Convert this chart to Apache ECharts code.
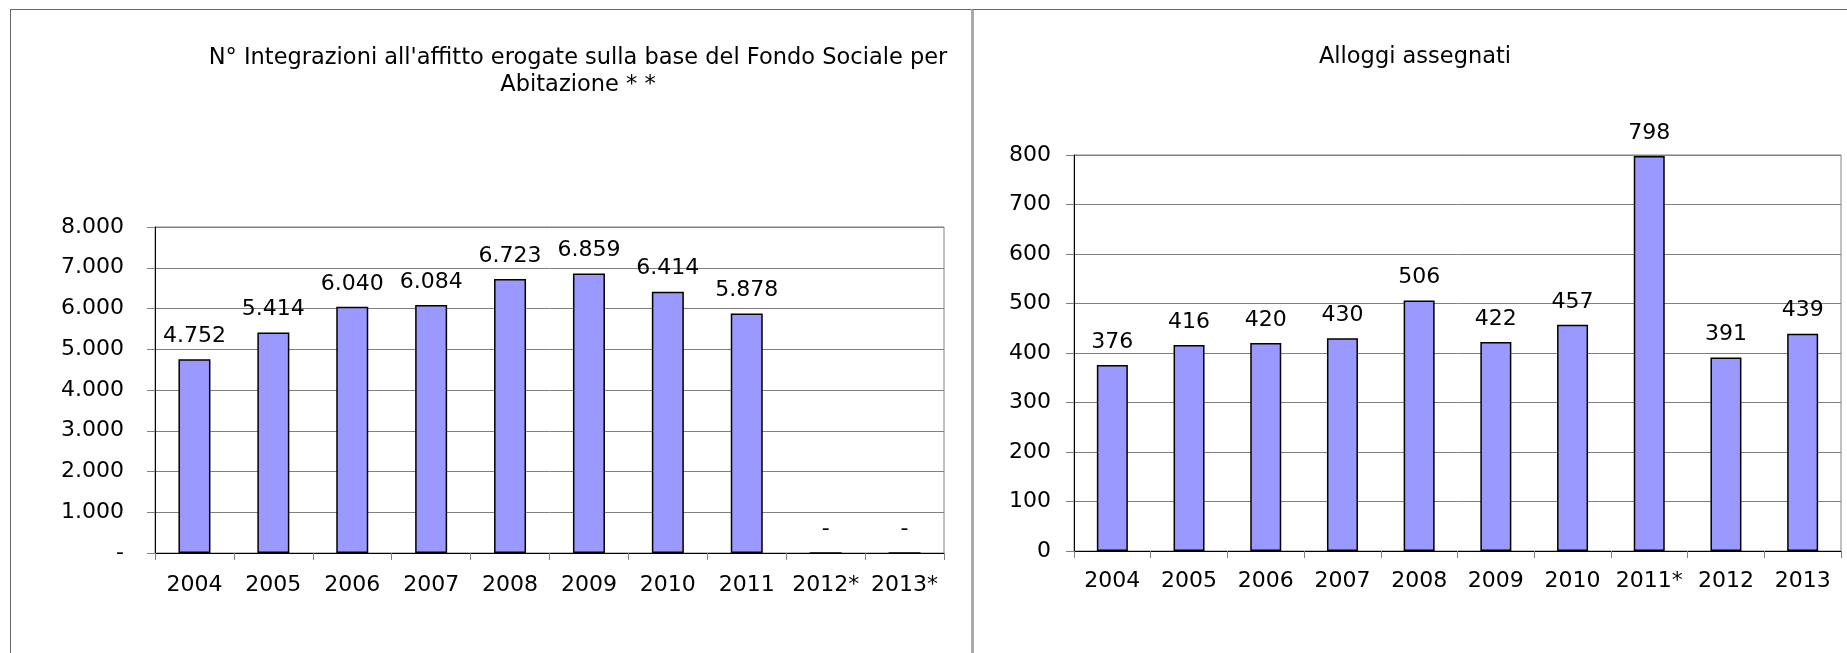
<!DOCTYPE html>
<html>
<head>
<meta charset="utf-8">
<script src="https://cdn.jsdelivr.net/npm/echarts@6/dist/echarts.min.js"></script>
<style>
    html, body { margin: 0; padding: 0; background: #fff; overflow: hidden; }
    #main { position: absolute; left: 0; top: 0; width: 1847px; height: 653px; }
    .frame { position: absolute; pointer-events: none; border-top: 1px solid #666; }
    #frameA { left: 10px; top: 9px; width: 962px; height: 700px; border-left: 1px solid #666; }
    #frameB { left: 971px; top: 9px; width: 900px; height: 700px; border-left: 3px solid #aaa; }
</style>
</head>
<body>
<div id="main"></div>
<div id="frameA" class="frame"></div>
<div id="frameB" class="frame"></div>
<script>
// grafico sinistro: integrazioni all'affitto
var yearsA = ['2004', '2005', '2006', '2007', '2008', '2009', '2010', '2011', '2012*', '2013*'];
var integrazioni = [4752, 5414, 6040, 6084, 6723, 6859, 6414, 5878, 0, 0];
var ticksA = ['-', '1.000', '2.000', '3.000', '4.000', '5.000', '6.000', '7.000', '8.000'];

// grafico destro: alloggi assegnati
var yearsB = ['2004', '2005', '2006', '2007', '2008', '2009', '2010', '2011*', '2012', '2013'];
var alloggi = [376, 416, 420, 430, 506, 422, 457, 798, 391, 439];
var ticksB = ['0', '100', '200', '300', '400', '500', '600', '700', '800'];

var font = 'DejaVu Sans';

//formatta con il punto delle migliaia, zero come trattino
function fmtIt(v) {
    if (v === 0) {
        return '-';
    }
    return String(v).replace(/\B(?=(\d{3})+(?!\d))/g, '.');
}

function xAxisOf(idx, data, margin) {
    return {
        type: 'category',
        gridIndex: idx,
        data: data,
        axisLine: { lineStyle: { color: '#000', width: 1 } },
        axisTick: { show: true, length: 7, lineStyle: { color: '#808080' } },
        axisLabel: { color: '#000', fontSize: 22, fontFamily: font, margin: margin, interval: 0 }
    };
}

function yAxisOf(idx, max, interval, ticks, margin) {
    return {
        type: 'value',
        gridIndex: idx,
        min: 0,
        max: max,
        interval: interval,
        axisLine: { show: true, lineStyle: { color: '#000', width: 1 } },
        axisTick: { show: true, length: 8, lineStyle: { color: '#808080' } },
        splitLine: { show: true, lineStyle: { color: '#808080', width: 1 } },
        axisLabel: {
            color: '#000', fontSize: 22, fontFamily: font, margin: margin,
            formatter: function (v) { return ticks[Math.round(v / interval)]; }
        }
    };
}

function barSeries(idx, data, width) {
    return {
        type: 'bar',
        xAxisIndex: idx,
        yAxisIndex: idx,
        data: data,
        barWidth: width,
        itemStyle: { color: '#9999FF', borderColor: '#000', borderWidth: 1.5 },
        label: {
            show: true,
            position: 'top',
            distance: 12,
            color: '#000',
            fontSize: 22,
            fontFamily: font,
            formatter: function (p) { return fmtIt(p.value); }
        },
        animation: false
    };
}

var myChart = echarts.init(document.getElementById('main'));
var option = {
    backgroundColor: '#fff',
    animation: false,
    title: [
        {
            text: "N° Integrazioni all'affitto erogate sulla base del Fondo Sociale per\nAbitazione * *",
            left: 573,
            top: 40,
            textAlign: 'center',
            textStyle: { color: '#000', fontSize: 22.5, fontWeight: 'normal', fontFamily: font, lineHeight: 27 }
        },
        {
            text: 'Alloggi assegnati',
            left: 1410,
            top: 41,
            textAlign: 'center',
            textStyle: { color: '#000', fontSize: 22.5, fontWeight: 'normal', fontFamily: font }
        }
    ],
    grid: [
        { left: 155, top: 227, width: 789, height: 326, show: true, borderColor: '#808080', borderWidth: 1, backgroundColor: 'transparent' },
        { left: 1074, top: 155, width: 767, height: 396, show: true, borderColor: '#808080', borderWidth: 1, backgroundColor: 'transparent' }
    ],
    xAxis: [xAxisOf(0, yearsA, 21), xAxisOf(1, yearsB, 19)],
    yAxis: [yAxisOf(0, 8000, 1000, ticksA, 31), yAxisOf(1, 800, 100, ticksB, 23)],
    series: [barSeries(0, integrazioni, 32), barSeries(1, alloggi, 31)]
};
myChart.setOption(option);
</script>
</body>
</html>
